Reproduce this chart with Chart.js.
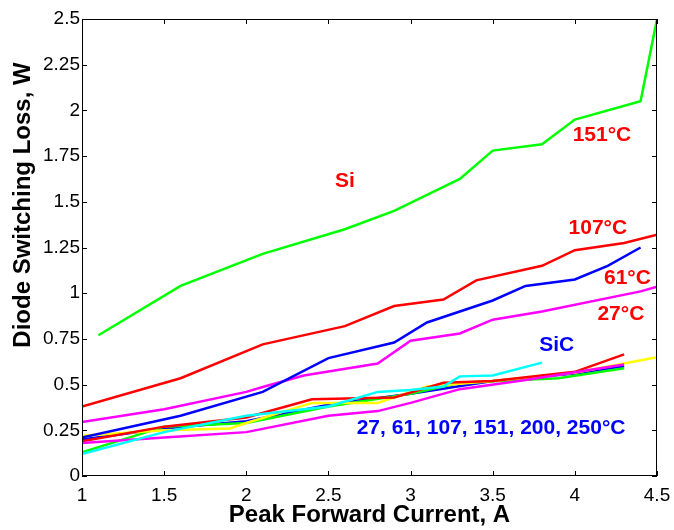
<!DOCTYPE html>
<html>
<head>
<meta charset="utf-8">
<script src="https://cdn.jsdelivr.net/npm/chart.js@4.4.1/dist/chart.umd.min.js"></script>
<style>
  html, body { margin: 0; padding: 0; background: #fff; }
</style>
</head>
<body>
<canvas id="lossChart" width="674" height="530"></canvas>
<script>
// DATA - Si diode curves
const si151X = [1.1, 1.6, 2.1, 2.6, 2.9, 3.3, 3.5, 3.8, 4.0, 4.4, 4.5];
const si151Y = [0.77, 1.04, 1.215, 1.35, 1.45, 1.625, 1.78, 1.815, 1.95, 2.05, 2.5];

const si107X = [1.0, 1.6, 2.1, 2.6, 2.9, 3.2, 3.4, 3.8, 4.0, 4.3, 4.5];
const si107Y = [0.38, 0.535, 0.72, 0.82, 0.93, 0.965, 1.07, 1.15, 1.235, 1.275, 1.32];

const si61X = [1.0, 1.6, 2.1, 2.5, 2.9, 3.1, 3.5, 3.7, 4.0, 4.2, 4.4];
const si61Y = [0.21, 0.33, 0.46, 0.645, 0.73, 0.84, 0.96, 1.04, 1.075, 1.15, 1.25];

const si27X = [1.0, 1.5, 2.0, 2.1, 2.35, 2.8, 3.0, 3.3, 3.5, 3.8, 4.4, 4.5];
const si27Y = [0.295, 0.365, 0.46, 0.487, 0.55, 0.615, 0.74, 0.78, 0.855, 0.9, 1.01, 1.035];

// DATA - SiC diode curves (27 to 250 C, all bunched together)
const sicBlueX = [1.0, 1.5, 2.0, 2.5, 3.0, 3.5, 4.0, 4.3];
const sicBlueY = [0.2, 0.26, 0.3, 0.39, 0.45, 0.52, 0.56, 0.6];

const sicGreenX = [1.0, 1.5, 2.0, 2.5, 3.0, 3.3, 3.9, 4.3];
const sicGreenY = [0.13, 0.27, 0.29, 0.38, 0.45, 0.51, 0.535, 0.59];

const sicYellowX = [1.0, 1.5, 1.9, 2.0, 2.4, 2.8, 3.1, 3.5, 4.0, 4.5];
const sicYellowY = [0.22, 0.25, 0.26, 0.29, 0.4, 0.4, 0.49, 0.52, 0.565, 0.65];

const sicRedX = [1.0, 1.5, 2.0, 2.4, 2.9, 3.2, 3.5, 4.0, 4.3];
const sicRedY = [0.19, 0.27, 0.32, 0.42, 0.43, 0.51, 0.52, 0.57, 0.665];

const sicMagentaX = [1.0, 1.5, 2.0, 2.5, 2.8, 3.0, 3.3, 3.7, 4.3];
const sicMagentaY = [0.18, 0.21, 0.24, 0.33, 0.355, 0.4, 0.475, 0.525, 0.61];

const sicCyanX = [1.0, 1.5, 2.0, 2.5, 2.8, 3.0, 3.2, 3.3, 3.5, 3.8];
const sicCyanY = [0.12, 0.24, 0.33, 0.38, 0.46, 0.47, 0.49, 0.545, 0.55, 0.62];

// AXES
const xTicks = [1, 1.5, 2, 2.5, 3, 3.5, 4, 4.5];
const yTicks = [0, 0.25, 0.5, 0.75, 1, 1.25, 1.5, 1.75, 2, 2.25, 2.5];
const yTitle = "Diode Switching Loss, W";

// TEXT LABELS ON THE PLOT (x, y in data units)
const noteText = ["Si", "151°C", "107°C", "61°C", "27°C", "SiC", "27, 61, 107, 151, 200, 250°C"];
const noteX = [2.6, 4.165, 4.14, 4.32, 4.28, 3.89, 3.49];
const noteY = [1.61, 1.865, 1.357, 1.083, 0.886, 0.717, 0.263];
const noteColor = ["#ff0000", "#ff0000", "#ff0000", "#ff0000", "#ff0000", "#0000ff", "#0000ff"];

function toPoints(xs, ys) {
    return xs.map((x, i) => ({ x: x, y: ys[i] }));
}

function series(label, xs, ys, color) {
    return {
        label: label,
        data: toPoints(xs, ys),
        borderColor: color,
        backgroundColor: color,
        borderWidth: 2.5,
        pointRadius: 0,
        tension: 0,
        fill: false
    };
}

const fontFamily = "'Liberation Sans', Arial, sans-serif";
const tickFont = { family: fontFamily, size: 19 };
const titleFont = { family: fontFamily, size: 24, weight: "bold" };

// matlab style box with inward ticks, y title (sits above centre) and text notes
const boxAndNotes = {
    id: "boxAndNotes",
    afterDatasetsDraw(chart) {
        const ctx = chart.ctx;
        const a = chart.chartArea;
        const xs = chart.scales.x;
        const ys = chart.scales.y;
        const len = 5;

        ctx.save();
        ctx.strokeStyle = "#000";
        ctx.lineWidth = 1;
        ctx.strokeRect(a.left + 0.5, a.top + 0.5, a.right - a.left - 1, a.bottom - a.top - 1);

        ctx.beginPath();
        xTicks.forEach(v => {
            const px = Math.round(xs.getPixelForValue(v)) + 0.5;
            ctx.moveTo(px, a.bottom);
            ctx.lineTo(px, a.bottom - len);
            ctx.moveTo(px, a.top);
            ctx.lineTo(px, a.top + len);
        });
        yTicks.forEach(v => {
            const py = Math.round(ys.getPixelForValue(v)) + 0.5;
            ctx.moveTo(a.left, py);
            ctx.lineTo(a.left + len, py);
            ctx.moveTo(a.right, py);
            ctx.lineTo(a.right - len, py);
        });
        ctx.stroke();

        // y axis title
        ctx.save();
        ctx.translate(23, 205);
        ctx.rotate(-Math.PI / 2);
        ctx.font = "bold " + titleFont.size + "px " + fontFamily;
        ctx.fillStyle = "#000";
        ctx.textAlign = "center";
        ctx.textBaseline = "middle";
        ctx.fillText(yTitle, 0, 0);
        ctx.restore();

        ctx.font = "bold 21px " + fontFamily;
        ctx.textAlign = "center";
        ctx.textBaseline = "middle";
        noteText.forEach((t, i) => {
            ctx.fillStyle = noteColor[i];
            ctx.fillText(t, xs.getPixelForValue(noteX[i]), ys.getPixelForValue(noteY[i]));
        });
        ctx.restore();
    }
};

const chart = new Chart(document.getElementById("lossChart"), {
    type: "line",
    data: {
        datasets: [
            series("Si 151°C", si151X, si151Y, "#00ff00"),
            series("Si 107°C", si107X, si107Y, "#ff0000"),
            series("Si 61°C", si61X, si61Y, "#0000ff"),
            series("Si 27°C", si27X, si27Y, "#ff00ff"),
            series("SiC cyan", sicCyanX, sicCyanY, "#00ffff"),
            series("SiC magenta", sicMagentaX, sicMagentaY, "#ff00ff"),
            series("SiC red", sicRedX, sicRedY, "#ff0000"),
            series("SiC yellow", sicYellowX, sicYellowY, "#ffff00"),
            series("SiC green", sicGreenX, sicGreenY, "#00ff00"),
            series("SiC blue", sicBlueX, sicBlueY, "#0000ff")
        ]
    },
    options: {
        responsive: false,
        animation: false,
        layout: { padding: { top: 19, right: 17, left: 0, bottom: 0 } },
        plugins: {
            legend: { display: false },
            tooltip: { enabled: false }
        },
        scales: {
            x: {
                type: "linear",
                min: 1,
                max: 4.5,
                afterFit: s => { s.height = 54; s.paddingLeft = 0; s.paddingRight = 0; },
                afterBuildTicks: s => { s.ticks = xTicks.map(v => ({ value: v })); },
                grid: { display: false, drawTicks: false },
                border: { display: false },
                ticks: {
                    color: "#000",
                    padding: 8,
                    font: tickFont,
                    callback: v => String(v)
                },
                title: {
                    display: true,
                    text: "Peak Forward Current, A",
                    color: "#000",
                    padding: { top: 0, bottom: 0 },
                    font: titleFont
                }
            },
            y: {
                type: "linear",
                min: 0,
                max: 2.5,
                afterFit: s => { s.width = 82; s.paddingTop = 0; s.paddingBottom = 0; },
                afterBuildTicks: s => { s.ticks = yTicks.map(v => ({ value: v })); },
                grid: { display: false, drawTicks: false },
                border: { display: false },
                ticks: {
                    color: "#000",
                    padding: 2,
                    font: tickFont,
                    callback: v => String(v)
                }
            }
        }
    },
    plugins: [boxAndNotes]
});
</script>
</body>
</html>
